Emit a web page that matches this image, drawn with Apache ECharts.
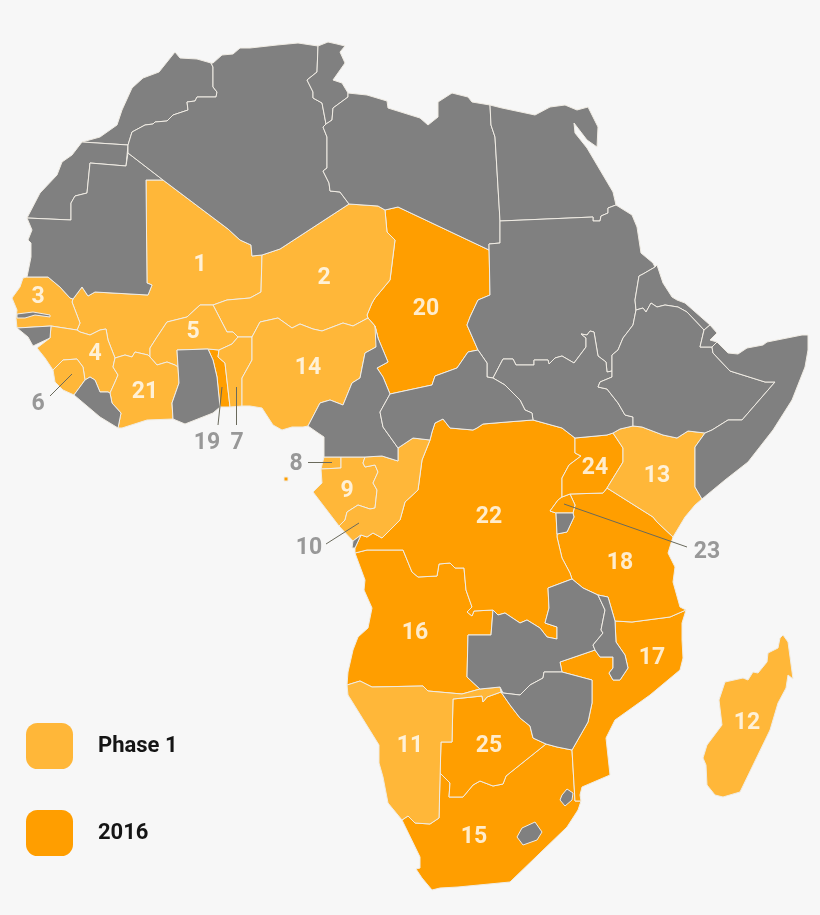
<!DOCTYPE html>
<html><head><meta charset="utf-8">
<style>html,body{margin:0;padding:0;background:#f7f7f7}#c{width:820px;height:915px}</style>
<script src="https://cdn.jsdelivr.net/npm/echarts@6/dist/echarts.min.js"></script>
</head><body><div id="c"></div>
<script>
// Groups of countries
const phase1 = ['Mali','Niger','Senegal','Guinea','Burkina Faso','Sierra Leone','Benin','Equatorial Guinea','Gabon','Congo','Namibia','Madagascar','Kenya','Nigeria','Cote dIvoire'];
const y2016 = ['South Africa','Angola','Mozambique','Tanzania','Togo','Chad','DR Congo','Rwanda','Uganda','Botswana','Bioko'];
const other = ['Morocco','Western Sahara','Mauritania','Algeria','Tunisia','Libya','Egypt','Sudan','South Sudan','Eritrea','Ethiopia','Djibouti','Somalia','Gambia','Guinea-Bissau','Liberia','Ghana','Cameroon','CAR','Cabinda','Burundi','Zambia','Malawi','Zimbabwe','Swaziland','Lesotho'];
const legendNames = ['Phase 1','2016'];
const colors = {phase1:'#FFB739', y2016:'#FF9E00', other:'#808080'};

// Numbered labels: inside the map, and outside with leader lines
const insideLabels = [['1',200,263],['2',324,276],['3',38,295],['4',95,352],['5',193,330],['9',347,489],['11',410,744],['12',747,721],['13',657,474],['14',308,366],['15',474,835],['16',415,631],['17',652,656],['18',620,561],['20',426,307],['21',145,390],['22',489,515],['24',595,466],['25',489,744]];
const outsideLabels = [['6',38,402],['7',237,441],['8',296,462],['10',309,546],['19',207,441],['23',707,550]];
const leaders = [[[50,396],[72,374]],[[218,425],[222,387]],[[236,425],[236,387]],[[308,462],[332,462]],[[326,544],[359,523]],[[687,547],[564,504]]];

// Country outlines, in picture units
const shapes = {
'Morocco':[[82,142],[100,137],[117,125],[122,110],[132,88],[143,78],[159,72],[175,52],[180,58],[197,59],[211,63],[213,67],[213,87],[217,92],[216,97],[197,97],[195,101],[187,102],[188,110],[173,115],[167,121],[155,122],[153,124],[145,125],[132,132],[128,145]],
'Western Sahara':[[82,142],[128,145],[126,166],[90,163],[87,193],[75,196],[71,203],[71,220],[27,218],[40,193],[57,175],[62,162],[72,155]],
'Mauritania':[[27,218],[71,220],[71,203],[75,196],[87,193],[90,163],[126,166],[128,153],[163,180],[146,180],[147,283],[152,285],[148,295],[95,292],[88,296],[82,287],[73,299],[70,298],[60,287],[48,277],[27,277],[31,257],[31,243],[28,240],[32,230]],
'Algeria':[[211,63],[213,63],[222,55],[233,54],[240,48],[250,48],[277,45],[298,43],[318,46],[317,72],[307,80],[313,92],[313,98],[322,103],[326,124],[323,127],[327,137],[327,168],[323,171],[329,183],[330,191],[340,192],[349,204],[280,249],[262,255],[252,256],[251,245],[240,240],[228,229],[163,180],[128,153],[128,145],[132,132],[145,125],[153,124],[155,122],[167,121],[173,115],[188,110],[187,102],[195,101],[197,97],[216,97],[217,92],[213,87],[213,67]],
'Tunisia':[[318,46],[328,42],[337,44],[345,46],[340,52],[345,63],[333,80],[342,83],[348,93],[348,97],[333,108],[332,120],[326,124],[322,103],[313,98],[313,92],[307,80],[317,72]],
'Libya':[[348,93],[367,95],[387,101],[388,108],[420,118],[428,125],[438,117],[438,102],[452,93],[468,97],[472,102],[490,105],[491,125],[495,137],[500,220],[500,243],[489,244],[489,250],[398,207],[385,210],[378,206],[349,204],[340,192],[330,191],[329,183],[323,171],[327,168],[327,137],[323,127],[326,124],[332,120],[333,108],[348,97]],
'Egypt':[[490,105],[502,108],[535,115],[550,107],[565,105],[577,110],[588,107],[598,127],[597,147],[587,140],[574,123],[575,133],[587,148],[613,192],[616,205],[608,208],[608,213],[601,216],[600,221],[593,221],[593,217],[500,221],[495,137],[491,125]],
'Sudan':[[500,221],[593,217],[593,221],[600,221],[601,216],[608,213],[608,208],[616,205],[632,215],[637,227],[641,253],[653,263],[655,267],[643,274],[639,276],[635,300],[636,310],[633,325],[623,338],[618,350],[612,355],[612,371],[607,372],[606,362],[598,356],[594,332],[590,331],[587,335],[581,334],[586,338],[586,347],[574,363],[562,356],[555,358],[549,364],[548,360],[534,360],[534,365],[516,365],[513,359],[503,359],[493,378],[487,377],[487,363],[478,350],[467,325],[470,317],[478,300],[490,295],[489,244],[500,243]],
'South Sudan':[[493,378],[503,359],[513,359],[516,365],[534,365],[534,360],[548,360],[549,364],[555,358],[562,356],[574,363],[586,347],[586,338],[581,334],[587,335],[590,331],[594,332],[598,356],[606,362],[607,372],[612,371],[612,377],[600,382],[598,387],[607,389],[618,403],[625,415],[633,417],[633,426],[620,429],[613,433],[607,435],[575,438],[562,428],[533,420],[532,413],[525,410],[520,400],[505,385]],
'Eritrea':[[655,267],[657,265],[663,283],[672,297],[677,300],[685,303],[710,325],[704,330],[687,312],[678,307],[665,305],[657,307],[651,303],[646,312],[643,308],[636,310],[635,300],[639,276],[643,274]],
'Djibouti':[[704,330],[710,325],[717,333],[710,340],[717,342],[712,347],[700,347]],
'Ethiopia':[[636,310],[643,308],[646,312],[651,303],[657,307],[665,305],[678,307],[687,312],[704,330],[700,347],[712,347],[713,353],[730,371],[765,382],[775,382],[742,420],[728,420],[712,430],[705,433],[688,431],[677,438],[663,435],[642,427],[633,426],[633,417],[625,415],[618,403],[607,389],[598,387],[600,382],[612,377],[612,371],[612,355],[618,350],[623,338],[633,325]],
'Somalia':[[712,347],[717,342],[728,353],[738,354],[747,348],[763,345],[767,342],[802,335],[808,335],[808,350],[805,367],[792,400],[773,430],[748,462],[725,480],[702,499],[695,487],[695,447],[705,433],[712,430],[728,420],[742,420],[775,382],[765,382],[730,371],[713,353]],
'Mali':[[146,180],[163,180],[228,229],[240,240],[251,245],[252,256],[262,255],[261,292],[250,298],[227,300],[213,305],[200,305],[187,317],[167,322],[157,337],[150,348],[150,357],[148,355],[135,352],[132,357],[125,355],[115,358],[108,340],[106,329],[100,330],[90,335],[80,332],[77,330],[80,323],[72,302],[73,299],[82,287],[88,296],[95,292],[148,295],[152,285],[147,283]],
'Niger':[[262,255],[280,249],[349,204],[378,206],[385,210],[387,232],[395,240],[390,280],[375,298],[372,303],[367,315],[368,318],[353,326],[343,323],[322,331],[313,329],[300,324],[292,328],[278,318],[260,322],[252,337],[238,337],[233,332],[227,332],[213,305],[227,300],[250,298],[261,292]],
'Senegal':[[12,298],[20,287],[23,278],[27,277],[48,277],[60,287],[70,298],[73,299],[72,302],[80,323],[77,330],[51,326],[17,328],[16,318],[17,310]],
'Gambia':[[17,314],[33,312],[50,315],[50,317],[35,315],[25,318],[17,318]],
'Guinea-Bissau':[[17,328],[51,326],[50,338],[33,346],[28,337]],
'Guinea':[[51,326],[77,330],[80,332],[90,335],[100,330],[106,329],[108,340],[115,358],[113,367],[118,375],[115,382],[110,393],[108,392],[100,392],[95,380],[90,377],[85,380],[83,367],[77,359],[63,360],[53,370],[45,358],[37,348],[50,338]],
'Sierra Leone':[[53,370],[63,360],[77,359],[83,367],[85,380],[74,395],[63,390],[55,382]],
'Liberia':[[74,395],[85,380],[90,377],[95,380],[100,392],[108,392],[110,393],[112,403],[121,413],[118,428],[100,417]],
'Cote dIvoire':[[110,393],[115,382],[118,375],[113,367],[115,358],[125,355],[132,357],[135,352],[148,355],[150,357],[157,365],[167,362],[175,365],[178,367],[179,383],[172,403],[173,419],[147,420],[122,428],[118,428],[121,413],[112,403]],
'Burkina Faso':[[213,305],[227,332],[233,332],[238,337],[232,344],[219,350],[208,349],[177,350],[178,367],[175,365],[167,362],[157,365],[150,357],[150,348],[157,337],[167,322],[187,317],[200,305]],
'Ghana':[[177,350],[208,349],[213,360],[217,377],[220,407],[213,413],[185,424],[173,419],[172,403],[179,383],[178,367]],
'Togo':[[208,349],[219,350],[218,357],[225,363],[230,407],[220,407],[217,377],[213,360]],
'Benin':[[219,350],[232,344],[238,337],[252,337],[252,360],[242,378],[242,406],[230,407],[225,363],[218,357]],
'Nigeria':[[252,337],[260,322],[278,318],[292,328],[300,324],[313,329],[322,331],[343,323],[353,326],[368,318],[375,326],[378,338],[376,347],[365,353],[360,378],[352,383],[343,405],[330,400],[320,403],[308,426],[303,427],[292,427],[282,430],[273,425],[262,408],[250,406],[242,406],[242,378],[252,360]],
'Chad':[[398,207],[489,250],[489,244],[490,295],[478,300],[470,317],[467,325],[478,350],[468,352],[457,368],[435,376],[432,385],[418,388],[390,394],[383,377],[377,368],[388,362],[378,338],[375,326],[368,318],[367,315],[372,303],[375,298],[390,280],[395,240],[387,232],[385,210]],
'Cameroon':[[375,326],[378,338],[388,362],[377,368],[383,377],[390,394],[380,412],[383,427],[398,448],[398,461],[382,456],[365,457],[341,457],[324,457],[324,437],[318,433],[308,426],[320,403],[330,400],[343,405],[352,383],[360,378],[365,353],[376,347]],
'CAR':[[390,394],[418,388],[432,385],[435,376],[457,368],[468,352],[478,350],[487,363],[487,377],[493,378],[505,385],[520,400],[525,410],[532,413],[533,420],[507,422],[483,424],[477,428],[473,430],[450,428],[443,419],[435,423],[432,432],[430,440],[413,438],[398,448],[383,427],[380,412]],
'Equatorial Guinea':[[324,457],[341,457],[341,468],[321,469]],
'Bioko':[[284,477],[288,477],[288,481],[284,481]],
'Gabon':[[341,457],[365,457],[363,463],[365,467],[375,465],[378,472],[373,483],[377,490],[375,508],[370,509],[358,505],[347,512],[345,520],[339,526],[313,492],[322,483],[321,469],[341,468]],
'Congo':[[365,457],[382,456],[398,461],[398,448],[413,438],[430,440],[422,460],[418,490],[405,502],[400,520],[382,538],[373,533],[367,537],[361,535],[353,541],[339,526],[345,520],[347,512],[358,505],[370,509],[375,508],[377,490],[373,483],[378,472],[375,465],[365,467],[363,463]],
'Cabinda':[[361,535],[355,548],[352,548],[353,541]],
'DR Congo':[[355,553],[367,550],[403,550],[412,572],[418,577],[437,576],[439,564],[450,563],[455,568],[464,568],[466,590],[472,607],[467,612],[472,616],[474,611],[493,610],[498,615],[505,613],[520,623],[527,620],[540,628],[547,637],[557,639],[557,627],[545,623],[549,608],[548,588],[572,579],[570,573],[562,558],[557,537],[557,534],[556,513],[550,511],[558,500],[562,497],[562,478],[569,465],[581,456],[575,453],[575,438],[562,428],[533,420],[507,422],[483,424],[477,428],[473,430],[450,428],[443,419],[435,423],[432,432],[430,440],[422,460],[418,490],[405,502],[400,520],[382,538],[373,533],[367,537],[361,535],[355,548]],
'Rwanda':[[550,511],[558,500],[562,497],[570,494],[575,505],[573,513],[556,513]],
'Burundi':[[556,513],[573,513],[574,517],[567,532],[557,534]],
'Uganda':[[575,438],[607,435],[613,433],[623,448],[623,462],[607,488],[603,493],[570,494],[562,497],[562,478],[569,465],[581,456],[575,453]],
'Kenya':[[613,433],[620,429],[633,426],[642,427],[663,435],[677,438],[688,431],[705,433],[695,447],[695,487],[702,499],[695,505],[685,517],[673,537],[657,522],[653,517],[607,488],[623,462],[623,448]],
'Tanzania':[[572,579],[570,573],[562,558],[557,537],[557,534],[567,532],[574,517],[573,513],[575,505],[570,494],[603,493],[607,488],[653,517],[657,522],[673,537],[668,553],[675,567],[673,582],[680,607],[686,610],[670,617],[632,622],[615,621],[608,597],[598,595],[583,588]],
'Angola':[[355,553],[367,550],[403,550],[412,572],[418,577],[437,576],[439,564],[450,563],[455,568],[464,568],[466,590],[472,607],[467,612],[472,616],[474,611],[493,610],[491,635],[468,635],[467,677],[480,689],[462,694],[428,691],[423,686],[372,687],[360,681],[347,685],[348,672],[353,650],[358,637],[368,628],[372,608],[364,590],[365,580]],
'Zambia':[[493,610],[498,615],[505,613],[520,623],[527,620],[540,628],[547,637],[557,639],[557,627],[545,623],[549,608],[548,588],[572,579],[583,588],[598,595],[605,610],[601,630],[603,633],[593,645],[595,650],[560,662],[562,672],[544,672],[543,678],[530,685],[520,695],[503,693],[500,687],[480,689],[467,677],[468,635],[491,635]],
'Malawi':[[598,595],[608,597],[615,621],[616,642],[625,655],[628,668],[620,680],[613,680],[609,673],[613,668],[613,657],[600,657],[595,650],[593,645],[603,633],[601,630],[605,610]],
'Mozambique':[[560,662],[595,650],[600,657],[613,657],[613,668],[609,673],[613,680],[620,680],[628,668],[625,655],[616,642],[615,621],[632,622],[670,617],[686,610],[682,623],[682,640],[683,658],[680,670],[650,695],[615,720],[606,738],[610,775],[582,787],[580,795],[581,801],[575,801],[572,750],[588,722],[592,703],[592,680],[562,672]],
'Zimbabwe':[[501,692],[503,693],[520,695],[530,685],[543,678],[544,672],[562,672],[592,680],[592,703],[588,722],[572,750],[557,747],[546,744],[533,738],[530,726],[520,718],[510,705]],
'Namibia':[[347,685],[360,681],[372,687],[423,686],[428,691],[462,694],[480,689],[500,687],[501,692],[487,697],[483,702],[482,696],[453,699],[452,742],[441,742],[439,818],[430,824],[415,823],[408,816],[402,820],[388,803],[383,777],[379,763],[379,745],[353,703],[348,695]],
'Botswana':[[453,699],[482,696],[483,702],[487,697],[501,692],[510,705],[520,718],[530,726],[533,738],[546,744],[506,776],[503,784],[493,786],[480,781],[473,785],[463,797],[449,797],[450,783],[440,773],[441,742],[452,742]],
'South Africa':[[402,820],[408,816],[415,823],[430,824],[439,818],[440,773],[450,783],[449,797],[463,797],[473,785],[480,781],[493,786],[503,784],[506,776],[546,744],[557,747],[572,750],[575,801],[581,801],[578,810],[567,827],[510,882],[458,887],[440,888],[432,890],[422,878],[416,869],[420,868],[420,857]],
'Swaziland':[[567,789],[573,793],[572,800],[565,806],[560,800],[562,795]],
'Lesotho':[[535,822],[542,832],[537,840],[523,845],[517,837],[522,828]],
'Madagascar':[[783,635],[788,642],[793,679],[788,675],[786,688],[778,703],[770,730],[740,792],[723,797],[715,795],[707,785],[706,765],[703,758],[707,745],[722,725],[719,700],[725,682],[743,678],[748,680],[753,672],[758,673],[767,662],[768,653],[778,648],[780,638]]
};

const drawOrder = [...y2016, ...phase1, ...other];
const geoJson = {type:'FeatureCollection', features: drawOrder.map(n => ({
  type:'Feature', properties:{name:n},
  geometry:{type:'Polygon', coordinates:[[...shapes[n], shapes[n][0]]]}
}))};
echarts.registerMap('africa', geoJson);

function regionStyle(list, color){
  return list.map(name => ({name, itemStyle:{areaColor:color}, silent:true}));
}
const labelFont = {fontFamily:'Roboto', fontWeight:700, fontSize:23};
function labelSeries(rows, color){
  return {type:'scatter', coordinateSystem:'geo', symbolSize:0, silent:true,
    data: rows.map(r => ({name:r[0], value:[r[1], r[2]]})),
    label:{show:true, position:'inside', offset:[0,2], formatter:'{b}', color, ...labelFont},
    z:5};
}
const chart = echarts.init(document.getElementById('c'));
chart.setOption({
  backgroundColor:'#f7f7f7',
  animation:false,
  geo:{
    map:'africa', roam:false, silent:true,
    projection:{project:p=>p, unproject:p=>p},
    boundingCoords:[[0,0],[820,915]],
    left:0, top:0, width:820, height:915,
    label:{show:false},
    itemStyle:{areaColor:colors.other, borderColor:'#f0ece4', borderWidth:1},
    regions:[...regionStyle(phase1,colors.phase1), ...regionStyle(y2016,colors.y2016), ...regionStyle(other,colors.other)]
  },
  legend:{
    orient:'vertical', left:26, top:723, padding:0, itemWidth:47, itemHeight:46, itemGap:41,
    icon:'roundRect', selectedMode:false, data:legendNames,
    textStyle:{fontFamily:'Roboto', fontWeight:700, fontSize:22, color:'#151515', padding:[0,0,0,20]}
  },
  series:[
    {name:legendNames[0], type:'scatter', coordinateSystem:'geo', data:[], itemStyle:{color:colors.phase1, opacity:1}},
    {name:legendNames[1], type:'scatter', coordinateSystem:'geo', data:[], itemStyle:{color:colors.y2016, opacity:1}},
    {type:'lines', coordinateSystem:'geo', silent:true, polyline:false, z:4,
      lineStyle:{color:'#6a6a5c', width:1, opacity:1, curveness:0},
      data:leaders.map(c => ({coords:c}))},
    labelSeries(insideLabels,'#ffffff'),
    labelSeries(outsideLabels,'#808080')
  ]
});
</script></body></html>
